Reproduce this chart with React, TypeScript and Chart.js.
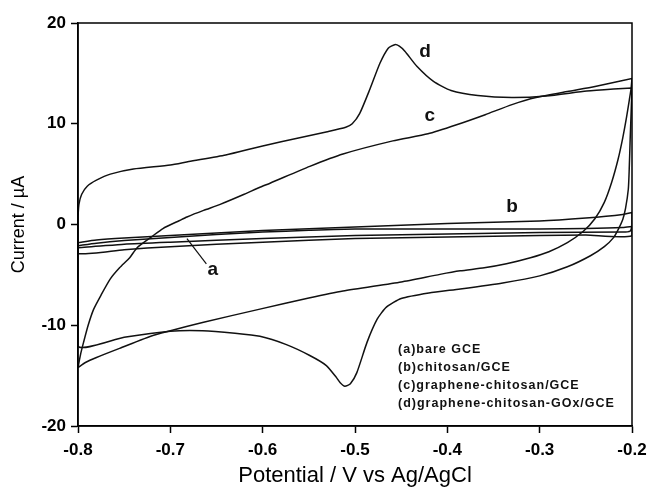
import React, { useEffect, useRef } from "react";
import { Chart, registerables } from "chart.js";

Chart.register(...registerables);

// ---- Data (Potential in V, Current in µA) ----
// (d) graphene-chitosan-GOx/GCE
const dUpperV = [-0.8, -0.799, -0.796, -0.79, -0.78, -0.765, -0.74, -0.7, -0.68, -0.64, -0.6, -0.56, -0.53, -0.51, -0.503, -0.495, -0.484, -0.473, -0.464, -0.457, -0.452, -0.446, -0.433, -0.415, -0.396, -0.367, -0.33, -0.293, -0.249, -0.22, -0.2];
const dUpperI = [0.8, 2.0, 3.0, 3.8, 4.4, 5.0, 5.5, 5.9, 6.25, 6.9, 7.8, 8.6, 9.2, 9.65, 10.0, 11.0, 13.4, 16.0, 17.5, 17.85, 17.7, 17.2, 15.7, 14.2, 13.3, 12.8, 12.6, 12.75, 13.25, 13.45, 13.55];
const dLowerV = [-0.2, -0.201, -0.202, -0.203, -0.204, -0.207, -0.21, -0.215, -0.22, -0.23, -0.245, -0.27, -0.3, -0.34, -0.386, -0.42, -0.45, -0.466, -0.476, -0.487, -0.498, -0.505, -0.511, -0.516, -0.52, -0.531, -0.549, -0.575, -0.603, -0.63, -0.665, -0.7, -0.75, -0.8, -0.8];
const dLowerI = [13.55, 11.0, 8.4, 5.5, 3.5, 1.6, 0.5, -0.5, -1.3, -2.2, -3.1, -4.2, -5.1, -5.8, -6.4, -6.8, -7.35, -8.2, -9.4, -11.7, -14.7, -15.8, -16.05, -15.7, -15.2, -14.0, -13.0, -11.9, -11.1, -10.8, -10.55, -10.6, -11.2, -12.05, 0.8];

// (c) graphene-chitosan/GCE
const cUpperV = [-0.8, -0.797, -0.794, -0.789, -0.783, -0.775, -0.765, -0.755, -0.744, -0.736, -0.72, -0.708, -0.69, -0.682, -0.664, -0.646, -0.62, -0.603, -0.592, -0.549, -0.513, -0.459, -0.421, -0.39, -0.359, -0.33, -0.304, -0.27, -0.24, -0.2];
const cUpperI = [-14.2, -12.8, -11.7, -10.0, -8.4, -7.0, -5.4, -4.3, -3.3, -2.3, -1.2, -0.4, 0.4, 0.75, 1.4, 2.0, 3.0, 3.7, 4.1, 5.77, 7.0, 8.3, 9.0, 9.9, 10.9, 11.9, 12.6, 13.2, 13.7, 14.5];
const cLowerV = [-0.2, -0.201, -0.203, -0.206, -0.21, -0.215, -0.222, -0.23, -0.24, -0.253, -0.27, -0.29, -0.31, -0.336, -0.36, -0.386, -0.408, -0.45, -0.513, -0.55, -0.603, -0.664, -0.718, -0.755, -0.78, -0.792, -0.8];
const cLowerI = [14.5, 13.5, 12.3, 10.6, 8.6, 6.5, 4.2, 2.2, 0.6, -0.7, -1.8, -2.7, -3.3, -3.9, -4.3, -4.6, -4.95, -5.7, -6.6, -7.3, -8.4, -9.7, -11.0, -12.3, -13.2, -13.7, -14.2];

// (b) chitosan/GCE
const bUpperV = [-0.8, -0.78, -0.75, -0.7, -0.6, -0.5, -0.4, -0.3, -0.25, -0.21, -0.2];
const bUpperI = [-1.8, -1.55, -1.35, -1.1, -0.6, -0.25, 0.1, 0.35, 0.65, 1.0, 1.2];
const bLowerV = [-0.2, -0.2, -0.25, -0.3, -0.4, -0.5, -0.6, -0.7, -0.75, -0.8, -0.8];
const bLowerI = [1.2, -1.1, -1.05, -1.1, -1.25, -1.4, -1.75, -2.2, -2.5, -2.9, -1.8];

// (a) bare GCE
const aUpperV = [-0.8, -0.78, -0.75, -0.7, -0.65, -0.6, -0.55, -0.5, -0.4, -0.3, -0.25, -0.21, -0.2];
const aUpperI = [-2.1, -1.85, -1.6, -1.3, -1.0, -0.75, -0.58, -0.45, -0.45, -0.45, -0.4, -0.3, -0.2];
const aLowerV = [-0.2, -0.202, -0.21, -0.3, -0.4, -0.5, -0.6, -0.7, -0.75, -0.8, -0.8];
const aLowerI = [-0.2, -0.65, -0.75, -0.8, -0.95, -1.1, -1.4, -1.75, -1.95, -2.3, -2.1];

// Curve tags drawn on the plot
const tagText = ["a", "b", "c", "d"];
const tagV = [-0.654, -0.33, -0.419, -0.424];
const tagI = [-4.45, 1.8, 10.8, 17.1];
// leader line for tag "a"
const leaderV = [-0.682, -0.661];
const leaderI = [-1.4, -3.9];

// Legend text
const legendLines = [
  "(a)bare GCE",
  "(b)chitosan/GCE",
  "(c)graphene-chitosan/GCE",
  "(d)graphene-chitosan-GOx/GCE",
];
const legendV = -0.4534;
const legendI = [-12.4, -14.2, -16.0, -17.8];

const xTitle = "Potential / V vs Ag/AgCl";
const yTitle = "Current / µA";

function pts(v: number[], i: number[]) {
  return v.map((x, k) => ({ x, y: i[k] }));
}

const FONT = "Arial, 'Liberation Sans', sans-serif";

const annotPlugin = {
  id: "annot",
  afterDraw(chart: any) {
    const { ctx, chartArea, scales } = chart;
    const xs = scales.x;
    const ys = scales.y;
    ctx.save();
    // frame
    ctx.strokeStyle = "#000";
    ctx.lineWidth = 1.5;
    ctx.strokeRect(chartArea.left, chartArea.top, chartArea.right - chartArea.left, chartArea.bottom - chartArea.top);
    // tags
    ctx.fillStyle = "#111";
    ctx.font = `bold 19px ${FONT}`;
    ctx.textAlign = "center";
    ctx.textBaseline = "middle";
    tagText.forEach((t, k) => {
      ctx.fillText(t, xs.getPixelForValue(tagV[k]), ys.getPixelForValue(tagI[k]));
    });
    // leader
    ctx.strokeStyle = "#111";
    ctx.lineWidth = 1.2;
    ctx.beginPath();
    ctx.moveTo(xs.getPixelForValue(leaderV[0]), ys.getPixelForValue(leaderI[0]));
    ctx.lineTo(xs.getPixelForValue(leaderV[1]), ys.getPixelForValue(leaderI[1]));
    ctx.stroke();
    // legend
    ctx.font = `bold 12.5px ${FONT}`;
    (ctx as any).letterSpacing = "1px";
    ctx.textAlign = "left";
    legendLines.forEach((t, k) => {
      ctx.fillText(t, xs.getPixelForValue(legendV), ys.getPixelForValue(legendI[k]));
    });
    (ctx as any).letterSpacing = "0px";
    ctx.restore();
  },
};

export default function App() {
  const ref = useRef<HTMLCanvasElement>(null);
  useEffect(() => {
    if (!ref.current) return;
    const lineStyle = {
      showLine: true,
      borderColor: "#111",
      backgroundColor: "#111",
      borderWidth: 1.5,
      pointRadius: 0,
      tension: 0.2,
      fill: false,
    };
    const chart = new Chart(ref.current, {
      type: "scatter",
      data: {
        datasets: [
          { label: "a", data: [...pts(aUpperV, aUpperI), ...pts(aLowerV, aLowerI)], ...lineStyle },
          { label: "b", data: [...pts(bUpperV, bUpperI), ...pts(bLowerV, bLowerI)], ...lineStyle },
          { label: "c", data: [...pts(cUpperV, cUpperI), ...pts(cLowerV, cLowerI)], ...lineStyle },
          { label: "d", data: [...pts(dUpperV, dUpperI), ...pts(dLowerV, dLowerI)], ...lineStyle },
        ],
      },
      options: {
        animation: false,
        responsive: false,
        devicePixelRatio: 1,
        layout: { padding: { left: 0, right: 15, top: 23, bottom: 0 } },
        plugins: { legend: { display: false }, tooltip: { enabled: false } },
        scales: {
          x: {
            type: "linear",
            min: -0.8,
            max: -0.2,
            ticks: {
              stepSize: 0.1,
              color: "#000",
              padding: 7,
              maxRotation: 0,
              font: { family: FONT, size: 17, weight: "bold" },
              callback: (v: any) => Number(v).toFixed(1),
            },
            grid: { drawOnChartArea: false, tickLength: 7, tickColor: "#000", tickWidth: 1.5 },
            border: { color: "#000", width: 1.5 },
            title: {
              display: true,
              text: xTitle,
              color: "#000",
              font: { family: FONT, size: 22 },
              padding: { top: 0, bottom: 3 },
            },
            afterFit: (s: any) => {
              s.height = 66;
              s.paddingLeft = 0;
              s.paddingRight = 0;
            },
          },
          y: {
            type: "linear",
            min: -20,
            max: 20,
            ticks: {
              stepSize: 10,
              color: "#000",
              padding: 5,
              font: { family: FONT, size: 17, weight: "bold" },
            },
            grid: { drawOnChartArea: false, tickLength: 7, tickColor: "#000", tickWidth: 1.5 },
            border: { color: "#000", width: 1.5 },
            title: {
              display: true,
              text: yTitle,
              color: "#000",
              font: { family: FONT, size: 18 },
              padding: { top: 8, bottom: 0 },
            },
            afterFit: (s: any) => {
              s.width = 78;
              s.paddingTop = 0;
              s.paddingBottom = 0;
            },
          },
        },
      } as any,
      plugins: [annotPlugin],
    });
    return () => chart.destroy();
  }, []);
  return (
    <canvas
      ref={ref}
      width={647}
      height={492}
      style={{ position: "absolute", left: 0, top: 0, width: 647, height: 492 }}
    />
  );
}
